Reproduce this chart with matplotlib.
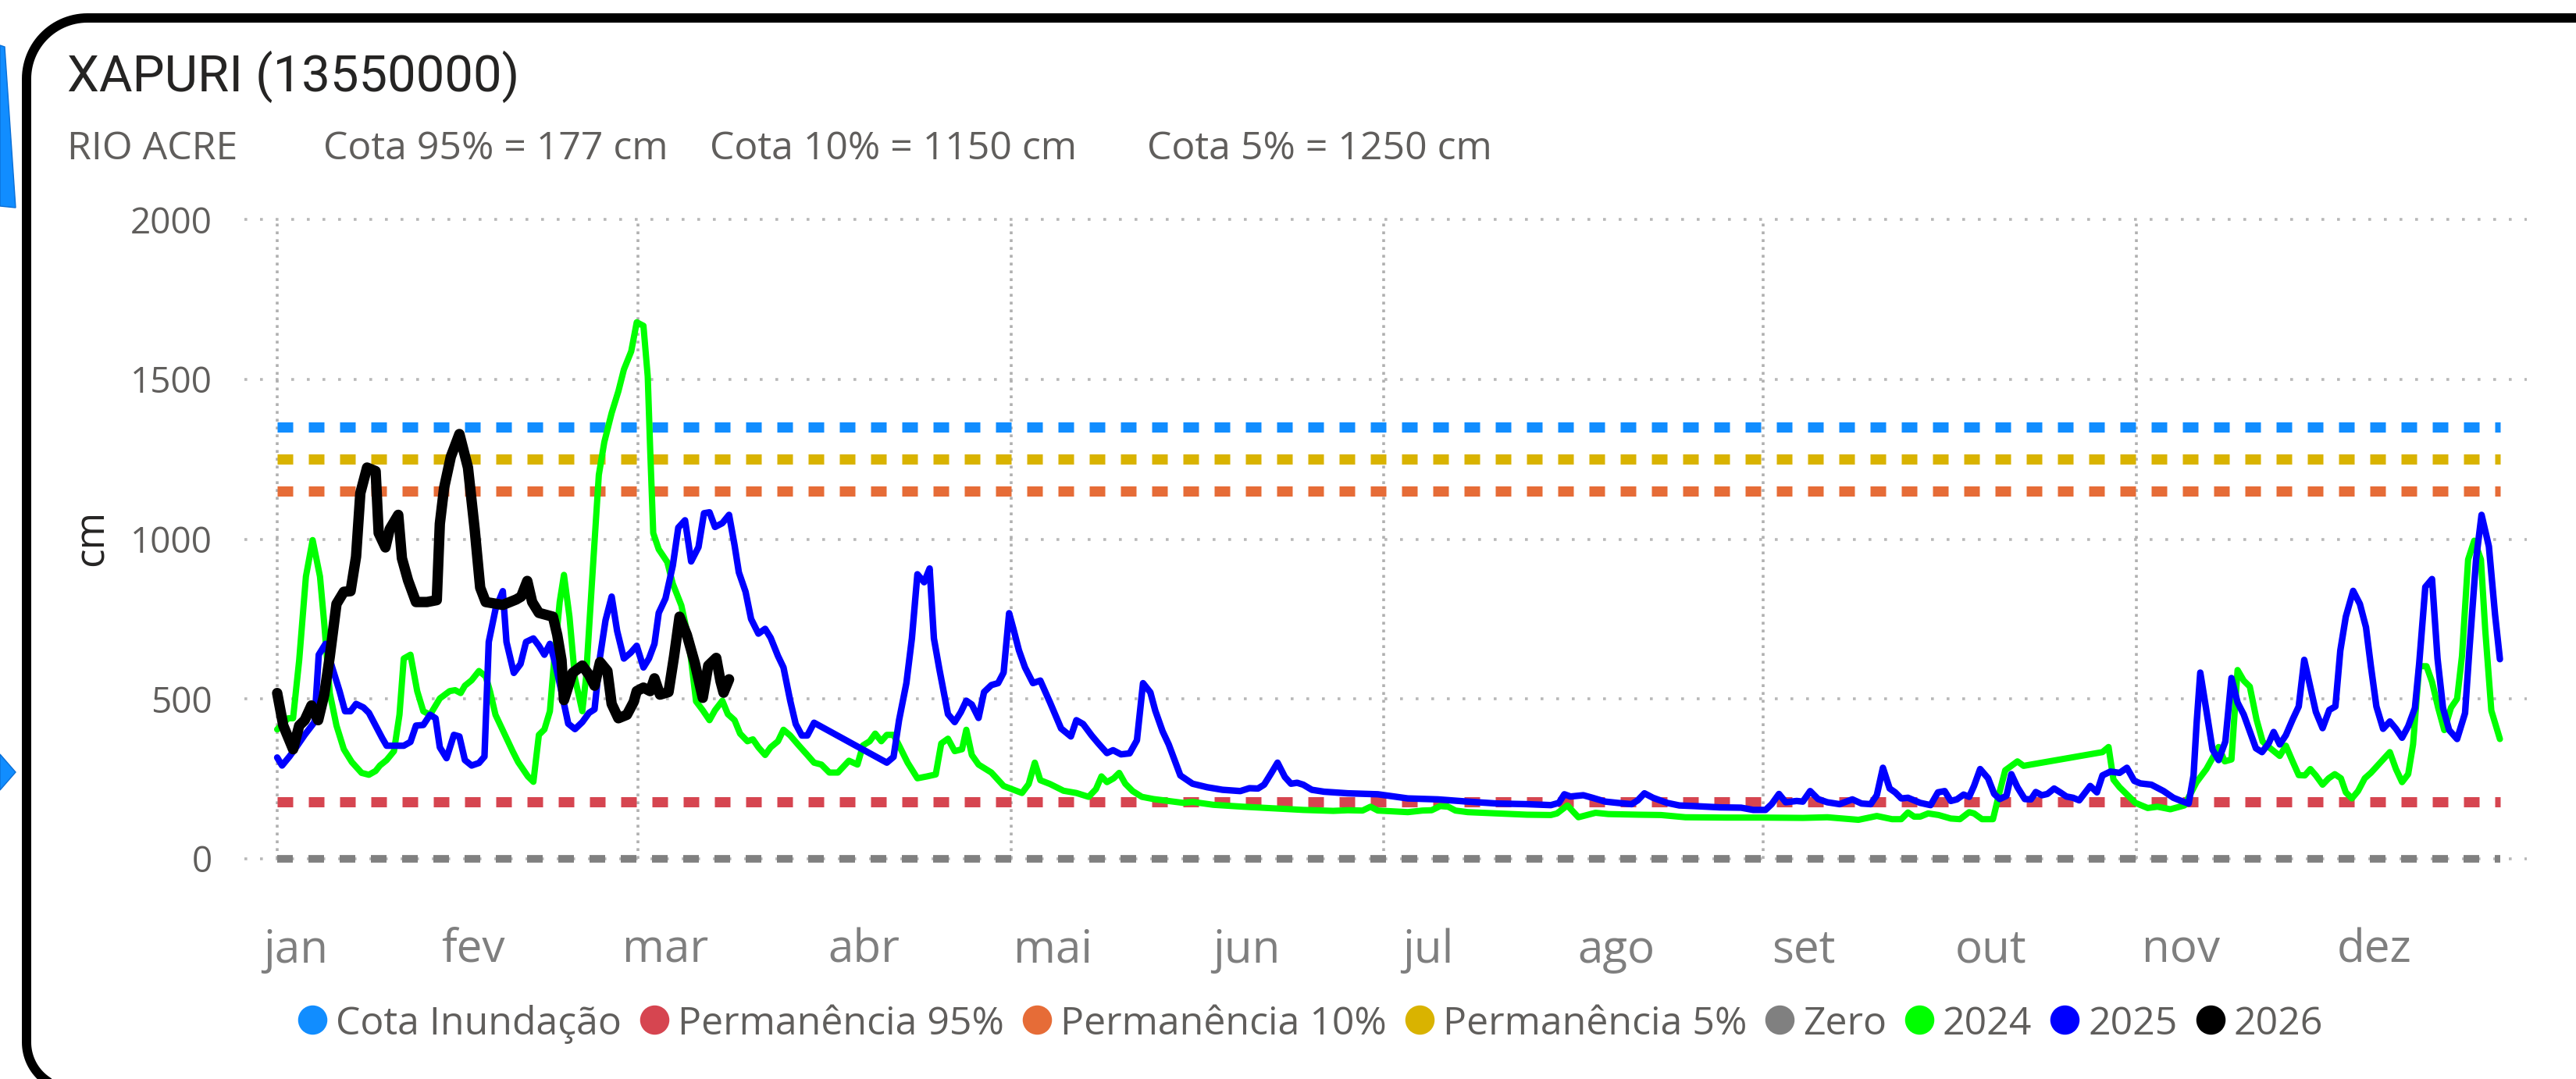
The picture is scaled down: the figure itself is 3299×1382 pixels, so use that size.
import numpy as np
import matplotlib
matplotlib.use("Agg")
import matplotlib.pyplot as plt
from matplotlib.patches import Polygon

plt.rcParams['font.family'] = ['Open Sans', 'DejaVu Sans']
plt.rcParams['lines.scale_dashes'] = False

W, H = 3299, 1382

# dias contados a partir de 1 de janeiro (0 = 1/jan)
dias_2024 = [0, 1.8, 2.6, 3.6, 4.7, 5.8, 7.0, 7.7, 8.6, 9.7,
             10.9, 12.2, 13.8, 15.0, 16.1, 16.8, 17.9, 19.1, 20.0, 20.7,
             21.8, 22.9, 23.9, 25.0, 26.6, 28.2, 29.1, 30.0, 30.7, 31.8,
             33.0, 34.1, 34.8, 35.7, 37.1, 38.5, 39.4, 41.0, 41.9, 42.8,
             43.7, 44.6, 45.3, 46.2, 46.9, 47.8, 48.7, 49.9, 50.5, 51.5,
             52.6, 53.5, 54.7, 55.8, 56.7, 57.9, 58.8, 59.9, 60.6, 61.0,
             61.5, 62.4, 63.8, 64.7, 66.1, 67.0, 67.7, 68.5, 69.6, 70.7,
             71.6, 72.8, 73.7, 74.8, 75.7, 76.9, 77.8, 78.7, 79.8, 80.7,
             81.9, 82.8, 83.9, 85.3, 86.7, 87.8, 89.0, 90.3, 91.7, 93.5,
             94.9, 95.8, 96.9, 97.8, 98.8, 99.7, 100.8, 101.7, 103.1, 104.7,
             106.3, 107.7, 108.6, 109.7, 110.8, 112.0, 112.7, 113.6, 114.7, 116.8,
             118.8, 121.8, 122.9, 123.9, 124.8, 126.4, 128.6, 130.7, 132.7, 133.9,
             134.8, 135.7, 136.8, 137.7, 138.7, 139.9, 141.4, 143.3, 145.8, 148.2,
             149.7, 153.1, 158.0, 162.9, 167.8, 172.7, 175.1, 177.5, 178.8, 180.0,
             184.9, 187.3, 188.8, 190.2, 191.5, 192.7, 194.7, 199.5, 204.4, 208.3,
             209.3, 211.0, 212.8, 215.6, 217.7, 222.7, 226.3, 230.3, 236.9, 242.9,
             249.5, 253.5, 258.6, 261.6, 264.1, 265.6, 266.7, 267.7, 268.7, 270.0,
             271.7, 273.7, 275.2, 276.7, 277.5, 278.8, 280.6, 281.6, 282.6, 284.6,
             285.6, 298.5, 299.5, 300.3, 301.3, 303.9, 305.9, 307.5, 309.6, 311.9,
             313.9, 315.5, 317.5, 318.5, 319.6, 320.6, 321.6, 322.6, 323.7, 324.7,
             325.7, 327.5, 328.5, 329.6, 330.6, 331.6, 332.5, 333.4, 334.5, 335.5,
             336.5, 337.5, 338.3, 339.3, 340.3, 341.4, 342.4, 345.5, 346.5, 347.5,
             348.5, 349.3, 350.3, 351.5, 352.4, 353.4, 354.4, 355.5, 356.5, 357.3,
             358.3, 359.3, 360.4, 361.1, 362.1, 363.5]
cota_2024 = [404, 439, 439, 621, 883, 997, 883, 735, 518, 416,
             342, 302, 268, 262, 274, 291, 308, 336, 450, 626,
             638, 524, 461, 450, 501, 524, 527, 518, 541, 558,
             587, 570, 524, 450, 393, 336, 302, 257, 240, 387,
             404, 461, 621, 803, 888, 757, 564, 461, 564, 871,
             1201, 1304, 1395, 1463, 1531, 1588, 1679, 1668, 1509, 1281,
             1019, 968, 928, 860, 792, 712, 621, 492, 464, 433,
             464, 494, 452, 433, 391, 367, 373, 348, 324, 348,
             367, 403, 385, 354, 324, 300, 294, 269, 269, 306,
             294, 354, 367, 391, 367, 387, 387, 354, 300, 251,
             257, 263, 360, 375, 336, 342, 403, 324, 294, 269,
             227, 205, 233, 300, 245, 233, 212, 205, 193, 217,
             257, 239, 251, 268, 234, 211, 193, 186, 180, 174,
             177, 168, 162, 157, 152, 149, 151, 150, 162, 150,
             145, 150, 151, 164, 162, 150, 145, 141, 137, 136,
             141, 166, 129, 143, 139, 137, 136, 129, 128, 128,
             127, 129, 121, 133, 123, 123, 144, 131, 131, 141,
             136, 125, 123, 145, 141, 123, 123, 202, 276, 304,
             290, 333, 349, 247, 223, 174, 158, 162, 154, 166,
             239, 280, 349, 304, 310, 590, 557, 538, 435, 366,
             349, 321, 353, 304, 261, 260, 280, 260, 231, 251,
             264, 251, 207, 188, 211, 251, 268, 333, 280, 239,
             264, 357, 602, 602, 553, 472, 402, 472, 500, 634,
             936, 995, 936, 716, 463, 374]

dias_2025 = [0, 0.8, 2.0, 3.1, 4.5, 6.1, 6.8, 7.9, 9.0, 10.2,
             11.1, 12.0, 12.9, 14.1, 15.0, 16.1, 17.2, 17.9, 20.7, 21.8,
             22.7, 23.9, 25.0, 25.9, 26.6, 27.7, 28.9, 29.8, 30.7, 31.8,
             33.0, 33.9, 34.6, 35.7, 36.9, 37.5, 38.7, 39.8, 40.7, 41.9,
             42.8, 43.7, 44.6, 45.5, 46.4, 47.6, 48.7, 49.9, 51.0, 51.9,
             52.8, 53.7, 54.7, 55.6, 56.7, 57.8, 58.8, 59.9, 60.8, 61.7,
             62.4, 63.5, 64.7, 65.6, 66.7, 67.7, 68.9, 69.8, 70.7, 71.6,
             72.8, 73.9, 74.8, 75.5, 76.6, 77.5, 78.7, 79.8, 80.7, 81.9,
             82.8, 83.9, 84.8, 85.8, 86.7, 87.8, 99.7, 100.8, 101.7, 102.9,
             103.8, 104.7, 105.8, 106.7, 107.4, 108.3, 109.7, 110.8, 111.8, 112.7,
             113.6, 114.7, 115.6, 116.8, 117.9, 118.8, 119.7, 120.4, 121.3, 122.3,
             123.6, 124.8, 126.4, 128.2, 129.8, 130.7, 131.8, 133.2, 134.3, 135.7,
             136.7, 138.0, 139.4, 140.6, 141.6, 142.8, 143.6, 144.8, 145.8, 147.7,
             149.7, 152.1, 154.6, 157.5, 159.0, 160.4, 161.4, 162.6, 163.6, 164.8,
             165.8, 166.8, 167.8, 169.2, 171.2, 175.1, 180.0, 184.9, 189.8, 194.7,
             199.5, 204.4, 208.3, 209.6, 210.5, 211.5, 213.6, 215.1, 217.2, 219.2,
             221.5, 222.5, 223.6, 225.0, 227.3, 229.3, 231.8, 235.9, 239.4, 241.4,
             243.4, 244.4, 245.6, 246.7, 248.5, 249.5, 250.7, 252.0, 253.5, 255.5,
             257.6, 259.1, 260.6, 261.6, 262.6, 263.7, 264.6, 265.6, 266.7, 268.7,
             270.4, 271.6, 272.7, 273.7, 274.7, 275.8, 276.7, 277.5, 278.5, 279.8,
             280.8, 281.7, 282.8, 283.6, 284.6, 285.8, 286.8, 287.6, 288.6, 289.5,
             290.6, 291.6, 292.6, 293.7, 294.7, 296.5, 297.6, 298.5, 299.8, 301.3,
             302.5, 303.7, 304.7, 306.5, 308.5, 310.1, 311.4, 312.6, 313.4, 313.9,
             314.5, 315.5, 316.5, 317.5, 318.6, 319.6, 320.6, 321.6, 322.6, 323.6,
             324.6, 325.7, 326.5, 327.5, 328.5, 329.6, 330.6, 331.5, 332.4, 333.4,
             334.5, 335.6, 336.6, 337.4, 338.3, 339.5, 340.6, 341.6, 342.4, 343.3,
             344.4, 345.5, 346.5, 347.5, 348.5, 349.6, 350.3, 351.3, 352.4, 353.3,
             354.2, 355.2, 356.5, 357.8, 358.5, 359.6, 360.5, 361.7, 362.7, 363.5]
cota_2025 = [316, 291, 319, 348, 387, 427, 638, 672, 598, 524,
             461, 461, 484, 473, 456, 416, 376, 353, 353, 365,
             416, 418, 450, 439, 348, 314, 387, 382, 308, 291,
             299, 319, 678, 780, 837, 678, 581, 609, 678, 689,
             666, 638, 672, 609, 530, 422, 405, 427, 456, 467,
             632, 746, 820, 712, 626, 644, 666, 598, 626, 672,
             769, 814, 917, 1036, 1059, 930, 975, 1081, 1084, 1038,
             1050, 1076, 981, 896, 835, 750, 704, 719, 691, 634,
             598, 494, 421, 385, 385, 425, 300, 318, 433, 549,
             689, 890, 865, 908, 689, 592, 452, 427, 458, 494,
             482, 440, 521, 543, 549, 582, 768, 719, 652, 598,
             549, 557, 488, 407, 382, 433, 421, 385, 360, 330,
             339, 326, 329, 370, 549, 520, 463, 398, 357, 260,
             234, 223, 215, 211, 220, 219, 231, 268, 300, 255,
             234, 237, 231, 215, 209, 204, 201, 188, 185, 178,
             172, 170, 167, 174, 201, 194, 198, 190, 178, 174,
             170, 182, 204, 190, 174, 166, 164, 160, 159, 152,
             152, 170, 202, 176, 180, 178, 211, 186, 176, 170,
             185, 172, 170, 198, 284, 219, 207, 188, 190, 174,
             167, 207, 211, 180, 185, 200, 193, 227, 280, 251,
             202, 186, 196, 264, 223, 186, 185, 208, 198, 202,
             219, 207, 194, 190, 182, 227, 207, 260, 272, 268,
             284, 243, 235, 231, 211, 190, 180, 172, 260, 423,
             582, 463, 341, 308, 366, 565, 488, 451, 398, 345,
             333, 361, 396, 357, 386, 435, 476, 622, 545, 459,
             408, 465, 476, 651, 757, 838, 797, 724, 602, 476,
             406, 429, 406, 378, 414, 471, 610, 850, 875, 626,
             471, 402, 374, 455, 651, 936, 1076, 977, 765, 624]

dias_2026 = [0, 1, 2.6, 3.6, 4.5, 5.6, 6.7, 7.7, 8.6, 9.7,
             10.9, 12, 12.9, 13.6, 14.7, 16.1, 16.6, 17.7, 18.4, 19.8,
             20.4, 21.4, 22.7, 24.5, 26.1, 26.6, 27.3, 28.4, 29.8, 31.2,
             32.3, 33.2, 34.1, 36.9, 39.1, 39.9, 40.9, 41.7, 42.8, 45.1,
             45.8, 46.5, 46.9, 48.3, 49.9, 51, 51.9, 52.8, 54, 54.7,
             55.8, 57.2, 58.3, 58.8, 59.9, 61, 61.7, 62.6, 64, 64.9,
             65.8, 67, 68.3, 69.6, 70.5, 71.8, 72.5, 73, 73.9]
cota_2026 = [518, 416, 342, 416, 433, 479, 433, 513, 632, 797,
             835, 837, 945, 1144, 1224, 1213, 1019, 974, 1031, 1076,
             940, 871, 803, 803, 809, 1048, 1161, 1258, 1329, 1224,
             1031, 848, 803, 794, 811, 820, 869, 803, 769, 757,
             700, 621, 496, 581, 604, 575, 541, 615, 587, 484,
             439, 450, 490, 524, 535, 524, 564, 513, 521, 632,
             757, 700, 612, 503, 604, 628, 555, 519, 561]

limiar_nomes = ["Cota Inundação", "Permanência 95%", "Permanência 10%", "Permanência 5%", "Zero"]
limiar_valores = [1350, 177, 1150, 1250, 0]
limiar_cores = ["#118DFF", "#D64550", "#E66C37", "#D9B300", "#808080"]

anos = ["2024", "2025", "2026"]
cores_anos = ["#00FF00", "#0000FF", "#000000"]

meses = ["jan", "fev", "mar", "abr", "mai", "jun", "jul", "ago", "set", "out", "nov", "dez"]
pos_meses = [3.0, 32.0, 63.5, 95.9, 126.9, 158.5, 188.2, 219.0, 249.6, 280.2, 311.3, 342.9]
grade_x = [0, 59, 120, 181, 243, 304]
y_ticks = [0, 500, 1000, 1500, 2000]

fig = plt.figure(figsize=(W / 100, H / 100), dpi=100)

# camada de fundo em pixels (moldura, titulos, legenda)
bg = fig.add_axes([0, 0, 1, 1])
bg.set_xlim(0, W)
bg.set_ylim(H, 0)
bg.axis("off")

# moldura arredondada (so o lado esquerdo e o topo aparecem)
r1, r2 = 78, 60
a1 = np.linspace(np.pi, 1.5 * np.pi, 30)
a2 = np.linspace(0.5 * np.pi, np.pi, 30)
bx = list(34 + r2 + r2 * np.cos(a2)) + list(34 + r1 + r1 * np.cos(a1)) + [W + 50]
by = list(1335 + r2 * np.sin(a2)) + list(23 + r1 + r1 * np.sin(a1)) + [23]
bg.plot(bx, by, color="black", lw=8.6, solid_joinstyle="round")

bg.add_patch(Polygon([(0, 58), (6, 60), (20, 266), (0, 264)], closed=True, fc="#118DFF", ec="#0B6FD6", lw=1))
bg.add_patch(Polygon([(0, 966), (20, 989), (0, 1012)], closed=True, fc="#118DFF", ec="#0B6FD6", lw=1))

bg.text(86, 117, "XAPURI (13550000)", fontsize=47, family=["Roboto", "DejaVu Sans"],
        color="#252423", va="baseline")
sub = ["RIO ACRE", "Cota 95% = 177 cm", "Cota 10% = 1150 cm", "Cota 5% = 1250 cm"]
sub_x = [86, 414, 909, 1469]
for s, x in zip(sub, sub_x):
    bg.text(x, 204, s, fontsize=36, color="#605E5C", va="baseline")

bg.text(118, 689, "cm", rotation=90, fontsize=37, color="#252423", ha="center", va="center")

# grafico principal
ax = fig.add_axes([313 / W, 1 - 1107.7 / H, (3236 - 313) / W, (1107.7 - 277.4) / H])
ax.patch.set_alpha(0)
ax.set_xlim(-5.36, 367.9)
ax.set_ylim(-20, 2010)
for s in ax.spines.values():
    s.set_visible(False)

for v in y_ticks:
    ax.plot([-5.36, 367.9], [v, v], color="#B8B8B8", lw=2.6, ls=(0, (2.6, 11.8)), zorder=1)
for gx in grade_x:
    ax.plot([gx, gx], [0, 2000], color="#B0B0B0", lw=2.6, ls=(0, (2.6, 4.6)), zorder=1)

for nome, val, cor in zip(limiar_nomes, limiar_valores, limiar_cores):
    lw = 7.0 if nome == "Zero" else 9.4
    ax.plot([0, 363.6], [val, val], color=cor, lw=lw, ls=(0, (14.4, 14.4)), zorder=2)

series = [(dias_2024, cota_2024, 5.8), (dias_2025, cota_2025, 6.0), (dias_2026, cota_2026, 9.6)]
for (d, c, lw), cor in zip(series, cores_anos):
    ax.plot(d, c, color=cor, lw=lw, solid_joinstyle="round", solid_capstyle="round", zorder=3)

ax.set_xticks([])
ax.set_yticks(y_ticks)
ax.tick_params(axis="y", length=0, pad=29.5, labelsize=33, labelcolor="#605E5C")

for m, p in zip(meses, pos_meses):
    ax.text(p, -325.7, m, ha="center", va="baseline", fontsize=42, color="#7F7F7F")

# legenda
renderer = fig.canvas.get_renderer()
nomes_leg = limiar_nomes + anos
cores_leg = limiar_cores + cores_anos
cx = 400
for nome, cor in zip(nomes_leg, cores_leg):
    bg.plot([cx], [1306], "o", ms=26, color=cor, mec=cor)
    t = bg.text(cx + 30, 1325, nome, fontsize=36, color="#605E5C", va="baseline")
    w = t.get_window_extent(renderer).width
    cx = cx + 30 + w + 42

fig.savefig("out.png", dpi=100)
